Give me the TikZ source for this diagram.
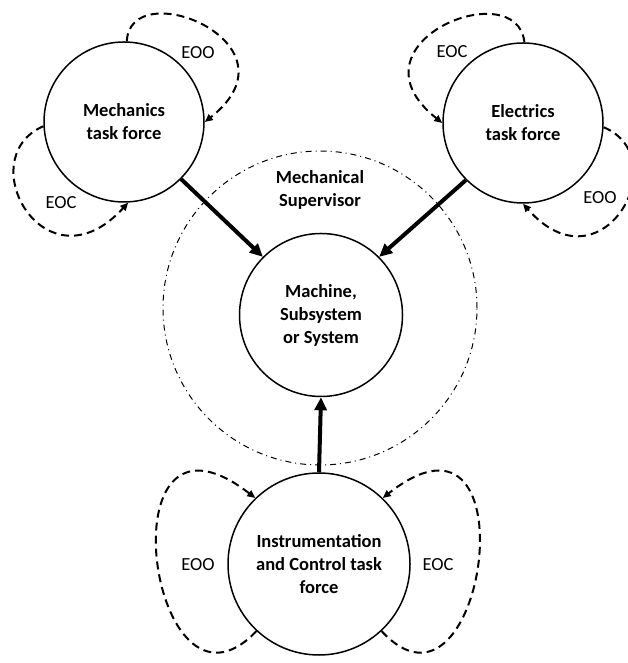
\documentclass[tikz,border=0pt]{standalone}
\usepackage{fontspec}
\setmainfont{Carlito}
\usetikzlibrary{arrows.meta}

\begin{document}
\begin{tikzpicture}[x=1pt,y=1pt,
	force/.style={circle,draw,line width=1.5pt,inner sep=0pt,align=center,
		font=\fontsize{18.5}{23}\selectfont\bfseries},
	tag/.style={font=\fontsize{18.5}{23}\selectfont},
	feed/.style={line width=4pt,-{Triangle[length=13pt,width=12pt]}},
	loopline/.style={line width=2pt,dash pattern=on 8pt off 5pt,
		-{Triangle[length=8pt,width=7pt]}}]
	\useasboundingbox (0,0) rectangle (628,663);
	\node[circle,draw,line width=1pt,dash pattern=on 6pt off 4pt on 1pt off 4pt,
		minimum size=314pt] (super) at (320,355) {};
	\node[align=center,font=\fontsize{18.5}{23}\selectfont\bfseries] (superlbl) at (320,473) {Mechanical\\Supervisor};
	\node[force,minimum size=163pt] (mach) at (321,348) {Machine,\\Subsystem\\or System};
	\node[force,minimum size=160pt] (mech) at (124,541) {Mechanics\\task force};
	\node[force,minimum size=160pt] (elec) at (523,540) {Electrics\\task force};
	\node[force,minimum size=182pt] (instr) at (319,99) {Instrumentation\\and Control task\\force};
	\draw[feed] (mech.-45) -- (mach.135);
	\draw[feed] (elec.225) -- (mach.45);
	\draw[feed] (instr.90) -- (mach.-90);
	\draw[loopline] (mech.88) .. controls (130,690) and (305,620) .. (mech.0);
	\draw[loopline] (mech.183) .. controls (-30,505) and (45,370) .. (mech.-87);
	\draw[loopline] (elec.89) .. controls (517,690) and (342,620) .. (elec.180);
	\draw[loopline] (elec.-3) .. controls (677,505) and (602,370) .. (elec.-90);
	\draw[loopline] (instr.227) .. controls (150,-80) and (100,285) .. (instr.134);
	\draw[loopline] (instr.-47) .. controls (485,-80) and (535,285) .. (instr.46);
	\node[tag] (mecheoo) at (198,610) {EOO};
	\node[tag] (mecheoc) at (61,460) {EOC};
	\node[tag] (eleceoc) at (452,611) {EOC};
	\node[tag] (eleceoo) at (600,465) {EOO};
	\node[tag] (instreoo) at (198,98) {EOO};
	\node[tag] (instreoc) at (438,98) {EOC};
\end{tikzpicture}
\end{document}
